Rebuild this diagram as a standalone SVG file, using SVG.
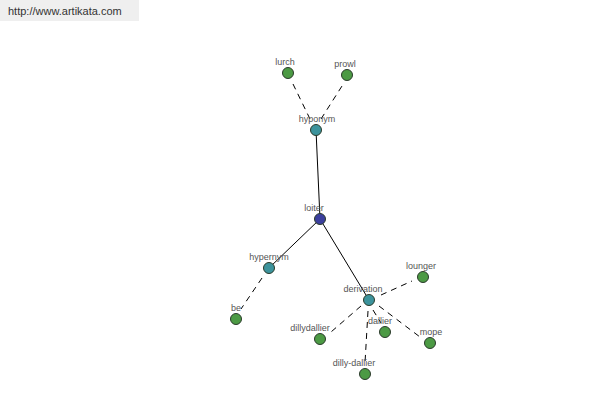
<svg xmlns="http://www.w3.org/2000/svg" width="600" height="400" viewBox="0 0 600 400">
<style>
.n{stroke:#2a3a2a;stroke-width:1}
.g{fill:#4c9a44}
.t{fill:#3c939c}
.b{fill:#3b3f9e}
.l{font-family:"Liberation Sans",Arial,sans-serif;font-size:9px;fill:#555;text-anchor:middle}
.s{stroke:#000;stroke-width:1;fill:none}
.d{stroke:#000;stroke-width:1;fill:none;stroke-dasharray:6,5}
</style>
<rect width="600" height="400" fill="#fff"/>
<rect x="0" y="0" width="139" height="21" fill="#efefef"/>
<text x="8" y="15" style="font-family:'Liberation Sans',Arial,sans-serif;font-size:11px;fill:#333">http://www.artikata.com</text>
<g id="connectors">
<line class="s" x1="316" y1="130" x2="320" y2="219"/>
<line class="s" x1="320" y1="219" x2="269" y2="268"/>
<line class="s" x1="320" y1="219" x2="369" y2="300"/>
<line class="d" x1="310" y1="119" x2="293" y2="84"/>
<line class="d" x1="321" y1="119" x2="342" y2="86"/>
<line class="d" x1="262" y1="278" x2="241" y2="309"/>
<line class="d" x1="381" y1="295" x2="412" y2="281"/>
<line class="d" x1="361" y1="306" x2="331" y2="332"/>
<line class="d" x1="373" y1="310" x2="381" y2="323"/>
<line class="d" x1="379" y1="306" x2="420" y2="337"/>
<line class="d" x1="368" y1="311" x2="365" y2="363"/>
</g>
<g id="lurch"><circle class="n g" cx="288" cy="73" r="5.5"/><text class="l" x="285" y="65">lurch</text></g>
<g id="prowl"><circle class="n g" cx="347" cy="75" r="5.5"/><text class="l" x="345" y="67">prowl</text></g>
<g id="hyponym"><circle class="n t" cx="316" cy="130" r="5.5"/><text class="l" x="317" y="122">hyponym</text></g>
<g id="loiter"><circle class="n b" cx="320" cy="219" r="5.5"/><text class="l" x="314" y="211">loiter</text></g>
<g id="hypernym"><circle class="n t" cx="269" cy="268" r="5.5"/><text class="l" x="269" y="260">hypernym</text></g>
<g id="be"><circle class="n g" cx="236" cy="319" r="5.5"/><text class="l" x="236" y="311">be</text></g>
<g id="derivation"><circle class="n t" cx="369" cy="300" r="5.5"/><text class="l" x="363" y="292">derivation</text></g>
<g id="lounger"><circle class="n g" cx="423" cy="277" r="5.5"/><text class="l" x="421" y="269">lounger</text></g>
<g id="dillydallier"><circle class="n g" cx="320" cy="339" r="5.5"/><text class="l" x="310" y="331">dillydallier</text></g>
<g id="dallier"><circle class="n g" cx="385" cy="332" r="5.5"/><text class="l" x="380" y="324">dallier</text></g>
<g id="mope"><circle class="n g" cx="430" cy="343" r="5.5"/><text class="l" x="431" y="335">mope</text></g>
<g id="dilly-dallier"><circle class="n g" cx="365" cy="374" r="5.5"/><text class="l" x="354" y="366">dilly-dallier</text></g>
</svg>
